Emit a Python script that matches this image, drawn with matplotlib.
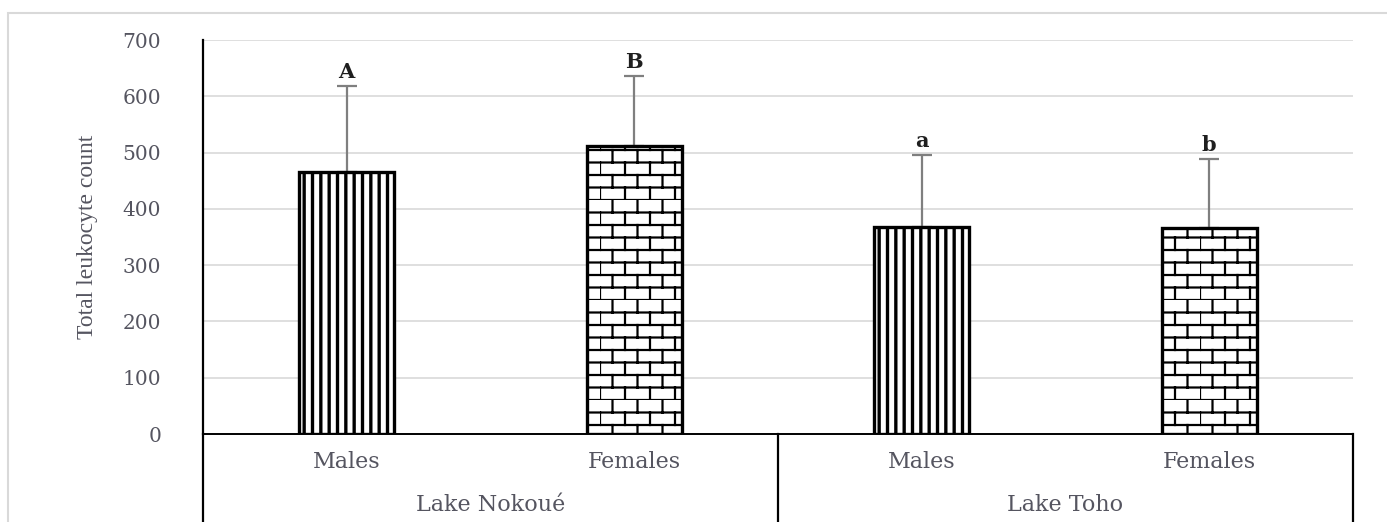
import warnings
import matplotlib
matplotlib.use("Agg")
import matplotlib.pyplot as plt
import matplotlib.hatch as mhatch
from matplotlib.path import Path
from matplotlib.patches import Rectangle
from matplotlib.transforms import blended_transform_factory

warnings.filterwarnings("ignore")

# data
lakes = ["Lake Nokoué", "Lake Toho"]
sexes = ["Males", "Females", "Males", "Females"]
means = [465, 512, 368, 366]
sds = [153, 124, 128, 123]
letters = ["A", "B", "a", "b"]


# brick hatch like the Excel pattern fill
class BrickHatch(mhatch.HatchPatternBase):
    rows = 8
    cols = 4

    def __init__(self, hatch, density):
        self.n = hatch.count("k")
        if self.n:
            self.num_lines = self.rows + self.rows * self.cols
        else:
            self.num_lines = 0
        self.num_vertices = self.num_lines * 2

    def set_vertices_and_codes(self, vertices, codes):
        i = 0
        for r in range(self.rows):
            y = r / self.rows
            vertices[i] = (0, y)
            vertices[i + 1] = (1, y)
            i += 2
            off = 0.5 * (r % 2)
            for c in range(self.cols):
                x = (c + off) / self.cols
                vertices[i] = (x, y)
                vertices[i + 1] = (x, y + 1 / self.rows)
                i += 2
        codes[0::2] = Path.MOVETO
        codes[1::2] = Path.LINETO


mhatch._hatch_types.append(BrickHatch)
plt.rcParams["hatch.linewidth"] = 1.6
plt.rcParams["hatch.color"] = "black"

fig = plt.figure(figsize=(13.87, 5.22), dpi=100)
ax = fig.add_axes([203 / 1387, 88 / 522, 1150 / 1387, 394 / 522])

x = list(range(len(means)))
hatches = ["||", "k", "||", "k"]
hatch_lw = [2.4, 1.6, 2.4, 1.6]
bars = ax.bar(x, means, width=0.33, color="white", edgecolor="black",
              linewidth=2.4, zorder=2)
for b, h, lw in zip(bars, hatches, hatch_lw):
    b.set_hatch(h)
    if hasattr(b, "set_hatch_linewidth"):
        b.set_hatch_linewidth(lw)

ax.errorbar(x, means, yerr=[[0] * len(sds), sds], fmt="none",
            ecolor="#7f7f7f", elinewidth=1.6, capsize=7, capthick=1.6,
            zorder=1.5)

for xi, m, s, t in zip(x, means, sds, letters):
    ax.annotate(t, (xi, m + s), xytext=(0, 3), textcoords="offset points",
                ha="center", va="bottom", fontsize=15, fontweight="bold",
                family="DejaVu Serif", color="#1f1f1f")

ax.set_xlim(-0.5, 3.5)
ax.set_ylim(0, 700)
ax.set_yticks(range(0, 701, 100))
ax.tick_params(axis="y", length=0, pad=30, labelsize=14.5, labelcolor="#555560")
for lab in ax.get_yticklabels():
    lab.set_family("DejaVu Serif")
ax.set_xticks([])
ax.grid(axis="y", color="#d9d9d9", linewidth=1.2)
ax.set_axisbelow(True)
for sp in ["top", "right"]:
    ax.spines[sp].set_visible(False)
ax.spines["left"].set_linewidth(1.6)
ax.spines["bottom"].set_linewidth(1.4)

ax.set_ylabel("Total leukocyte count", family="Liberation Serif",
              fontsize=17, color="#555560", labelpad=18)

# category axis with two levels
tr = blended_transform_factory(ax.transData, fig.transFigure)
y_axis = 88 / 522
for xv in [-0.5, 1.5, 3.5]:
    ax.plot([xv, xv], [0, y_axis], transform=tr, color="black",
            linewidth=1.6, clip_on=False)
for xi, s in zip(x, sexes):
    ax.text(xi, 60 / 522, s, transform=tr, ha="center", va="center",
            family="DejaVu Serif", fontsize=16, color="#555560")
for i, lake in enumerate(lakes):
    ax.text(2 * i + 0.5, 17 / 522, lake, transform=tr, ha="center",
            va="center", family="DejaVu Serif", fontsize=16, color="#555560")

# light chart border
fig.patches.append(Rectangle((8 / 1387, -0.1), 1.2, 1.1 - 13 / 522,
                             transform=fig.transFigure, fill=False,
                             edgecolor="#d9d9d9", linewidth=1.5))

fig.savefig("out.png", dpi=100)
